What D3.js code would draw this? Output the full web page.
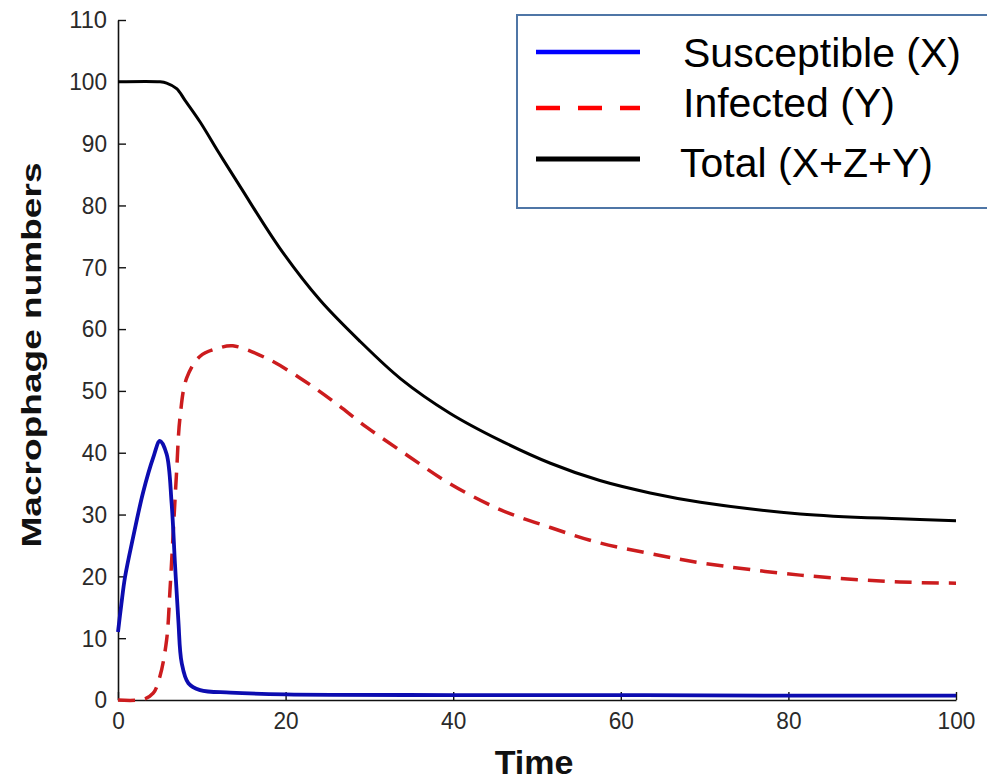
<!DOCTYPE html>
<html>
<head>
<meta charset="utf-8">
<script src="https://cdn.jsdelivr.net/npm/d3@7/dist/d3.min.js"></script>
<style>
  html, body { margin: 0; padding: 0; background: #fff; }
  svg { display: block; }
</style>
</head>
<body>
<svg id="chart" width="987" height="780"></svg>
<script>
// ---- Data ----
const seriesNames = ["Susceptible (X)", "Infected (Y)", "Total (X+Z+Y)"];

const tSusceptible = [0, 0.4, 0.84, 1.8, 3.0, 4.2, 5.0, 5.8, 6.4, 6.8, 7.2, 7.6, 8.4, 9.8, 13.4, 20, 40, 60, 80, 100];
const vSusceptible = [11, 15.5, 19.9, 26.3, 33.6, 39.2, 41.9, 39.8, 31.8, 22, 12.9, 6, 2.7, 1.6, 1.2, 0.9, 0.8, 0.8, 0.7, 0.7];

const tInfected = [0, 3, 4.2, 5.0, 5.8, 6.2, 6.6, 7.0, 7.4, 8.2, 9.8, 12.2, 13.7, 17.7, 21.7, 25.7, 29.7, 34.5, 39.6, 45.6, 51.6, 57.5, 63.5, 69.5, 81.4, 93.3, 100];
const vInfected = [0, 0.1, 1.1, 3.8, 9.7, 17.7, 27.4, 37.1, 45.7, 52.1, 55.6, 57, 57.3, 55.3, 52.1, 48.3, 44.1, 39.6, 35.0, 30.8, 27.9, 25.4, 23.7, 22.2, 20.2, 19.1, 18.9];

const tTotal = [0, 5, 5.8, 7, 8, 9.8, 12, 14.6, 19.3, 24.1, 28.9, 33.7, 39.6, 45.6, 51.6, 57.5, 63.5, 69.5, 81.4, 93.3, 100];
const vTotal = [100, 100, 99.8, 98.9, 97, 93.5, 88.6, 83.0, 73.1, 64.7, 58.0, 52.0, 46.4, 42.0, 38.3, 35.5, 33.5, 32, 30.1, 29.3, 29];

const xTicks = [0, 20, 40, 60, 80, 100];
const yTicks = [0, 10, 20, 30, 40, 50, 60, 70, 80, 90, 100, 110];

const xLabel = "Time";
const yLabel = "Macrophage numbers";

// ---- Layout ----
const svg = d3.select("#chart");
const plotLeft = 118, plotRight = 956, plotTop = 20, plotBottom = 700;

const x = d3.scaleLinear().domain([0, 100]).range([plotLeft, plotRight]);
const y = d3.scaleLinear().domain([0, 110]).range([plotBottom, plotTop]);

const tickFont = "'Liberation Sans', Arial, sans-serif";

// Axes
const xAxis = d3.axisBottom(x).tickValues(xTicks).tickSizeInner(-8).tickSizeOuter(0).tickPadding(12);
const yAxis = d3.axisLeft(y).tickValues(yTicks).tickSizeInner(-8).tickSizeOuter(0).tickPadding(11);

const gx = svg.append("g").attr("transform", `translate(0,${plotBottom})`).call(xAxis);
const gy = svg.append("g").attr("transform", `translate(${plotLeft},0)`).call(yAxis);

[gx, gy].forEach(g => {
  g.select(".domain").attr("stroke", "#111").attr("stroke-width", 1.6);
  g.selectAll(".tick line").attr("stroke", "#111").attr("stroke-width", 1.4);
  g.selectAll(".tick text")
    .attr("fill", "#2a2a2a")
    .style("font-family", tickFont)
    .style("font-size", "24.5px");
});
gy.selectAll(".tick text").attr("textLength", d => String(d).length * 12.6).attr("lengthAdjust", "spacingAndGlyphs");
gx.selectAll(".tick text").attr("textLength", d => String(d).length * 12.6).attr("lengthAdjust", "spacingAndGlyphs");

// Lines
const line = d3.line().x(d => x(d[0])).y(d => y(d[1])).curve(d3.curveCatmullRom.alpha(0.5));

const dTotal = tTotal.map((t, i) => [t, vTotal[i]]);
const dInfected = tInfected.map((t, i) => [t, vInfected[i]]);
const dSus = tSusceptible.map((t, i) => [t, vSusceptible[i]]);

svg.append("path").datum(dTotal)
  .attr("d", line).attr("fill", "none")
  .attr("stroke", "#000").attr("stroke-width", 3);

svg.append("path").datum(dInfected)
  .attr("d", line).attr("fill", "none")
  .attr("stroke", "#cc1c1e").attr("stroke-width", 3.5)
  .attr("stroke-dasharray", "17,10");

svg.append("path").datum(dSus)
  .attr("d", line).attr("fill", "none")
  .attr("stroke", "#0c0cb0").attr("stroke-width", 3.8);

// Axis labels
svg.append("text")
  .attr("x", 534).attr("y", 774)
  .attr("text-anchor", "middle")
  .style("font-family", tickFont)
  .style("font-size", "34px").style("font-weight", "bold")
  .attr("fill", "#111")
  .text(xLabel);

svg.append("text")
  .attr("transform", "translate(41,355) rotate(-90)")
  .attr("text-anchor", "middle")
  .attr("textLength", 385).attr("lengthAdjust", "spacingAndGlyphs")
  .style("font-family", tickFont)
  .style("font-size", "27px").style("font-weight", "bold")
  .attr("fill", "#111")
  .text(yLabel);

// Legend
const lg = svg.append("g");
lg.append("rect")
  .attr("x", 517).attr("y", 15).attr("width", 490).attr("height", 193)
  .attr("fill", "#fff").attr("stroke", "#4f76a6").attr("stroke-width", 2);

const legendRows = [
  { name: seriesNames[0], color: "#0000ff", dash: null, ly: 52, ty: 67, tx: 683, w: 4.5 },
  { name: seriesNames[1], color: "#ff0000", dash: "24,18", ly: 108, ty: 117, tx: 683, w: 4.5 },
  { name: seriesNames[2], color: "#000", dash: null, ly: 159, ty: 177, tx: 680, w: 5 }
];
legendRows.forEach(r => {
  lg.append("line")
    .attr("x1", 536).attr("x2", 640).attr("y1", r.ly).attr("y2", r.ly)
    .attr("stroke", r.color).attr("stroke-width", r.w)
    .attr("stroke-dasharray", r.dash);
  lg.append("text")
    .attr("x", r.tx).attr("y", r.ty)
    .style("font-family", "'Liberation Sans', Arial, sans-serif")
    .style("font-size", "41px")
    .attr("fill", "#000")
    .text(r.name);
});
</script>
</body>
</html>
